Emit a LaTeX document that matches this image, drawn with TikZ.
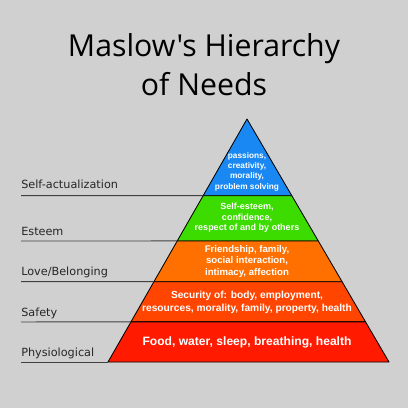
\documentclass[tikz,border=0pt]{standalone}
\usepackage{fontspec}
\setmainfont{Liberation Sans}
\newfontfamily\titlefont{Open Sans}
\newfontfamily\levelfont{DejaVu Sans}
\usetikzlibrary{calc}

\definecolor{bggray}{RGB}{208,208,208}
\definecolor{selfcol}{RGB}{26,136,242}
\definecolor{esteemcol}{RGB}{60,220,0}
\definecolor{lovecol}{RGB}{255,112,0}
\definecolor{safecol}{RGB}{255,69,0}
\definecolor{physcol}{RGB}{255,26,0}

\begin{document}
\begin{tikzpicture}[x=0.025cm, y=-0.025cm,
  level/.style={font=\levelfont\fontsize{8}{9.6}\selectfont, anchor=base west, inner sep=0pt, text=black!85},
  guide/.style={draw=black!75, line width=0.7pt},
  tier/.style={draw=black, line width=0.6pt, line join=round},
  need/.style={align=center, text=white, inner sep=0pt, font=\bfseries}]
\fill[bggray] (0,0) rectangle (408,408);
\useasboundingbox (0,0) rectangle (408,408);
% title
\node[font=\titlefont\fontsize{21.5}{26}\selectfont, anchor=base] (title1) at (204,56.7) {Maslow's Hierarchy};
\node[font=\titlefont\fontsize{21.5}{26}\selectfont, anchor=base] (title2) at (204,95) {of Needs};
% pyramid
\coordinate (apex) at (247,119);
\coordinate (bl) at (108,362);
\coordinate (br) at (389,362);
\foreach \ta/\tb/\col in {0/0.3156/selfcol, 0.3156/0.502/esteemcol, 0.502/0.6695/lovecol, 0.6695/0.835/safecol, 0.835/1/physcol}
  \filldraw[tier, fill=\col] ($(apex)!\ta!(bl)$) -- ($(apex)!\tb!(bl)$) -- ($(apex)!\tb!(br)$) -- ($(apex)!\ta!(br)$) -- cycle;
% levels on the left
\node[level] (self) at (21,188) {Self-actualization};
\node[level] (esteem) at (21,235.3) {Esteem};
\node[level] (love) at (21,275) {Love/Belonging};
\node[level] (safety) at (21,316.7) {Safety};
\node[level] (phys) at (21,356.7) {Physiological};
\foreach \n/\y/\t in {1/195.7/0.3156, 2/241/0.502, 3/281.7/0.6695, 4/322/0.835, 5/362/1} {
  \coordinate (g\n) at (21,\y);
  \coordinate (p\n) at ($(apex)!\t!(bl)$);
  \draw[guide] (g\n) -- (p\n);
}
% needs
\node[need, font=\bfseries\fontsize{5.9}{7.3}\selectfont] (selftxt) at (247,171.5) {passions,\\creativity,\\morality,\\problem solving};
\node[need, font=\bfseries\fontsize{6.4}{7.5}\selectfont] (esteemtxt) at (247,218) {Self-esteem,\\confidence,\\respect of and by others};
\node[need, font=\bfseries\fontsize{6.85}{8.5}\selectfont] (lovetxt) at (247,261.5) {Friendship, family,\\social interaction,\\intimacy, affection};
\node[need, font=\bfseries\fontsize{7.25}{8.8}\selectfont] (safetxt) at (247,302.5) {Security of: body, employment,\\resources, morality, family, property, health};
\node[need, font=\bfseries\fontsize{8.6}{10}\selectfont] (phystxt) at (247,342) {Food, water, sleep, breathing, health};
\end{tikzpicture}
\end{document}
